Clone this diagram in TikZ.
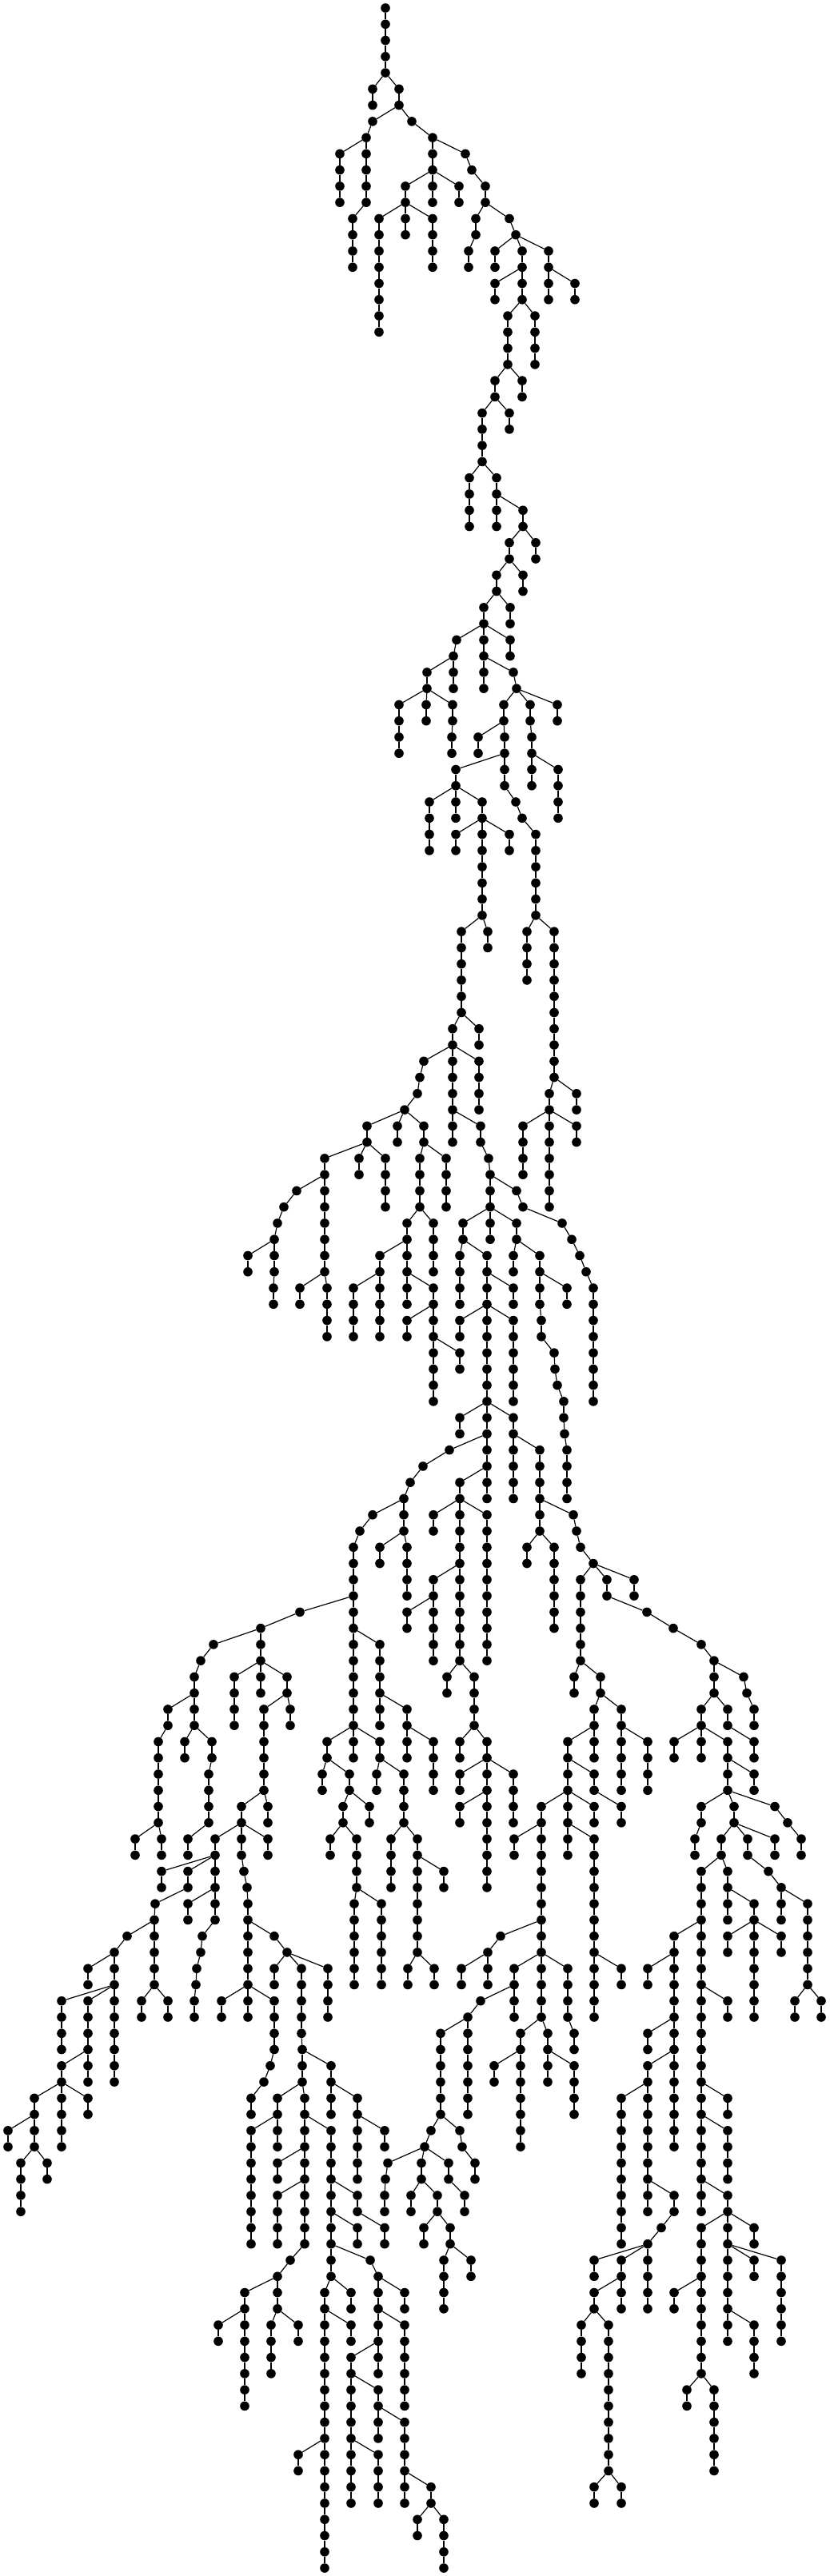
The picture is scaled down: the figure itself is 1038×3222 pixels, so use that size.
\documentclass[tikz,border=0pt]{standalone}
\tikzset{
  treedot/.style={circle,fill=black,draw=none,inner sep=0pt,minimum size=11.6pt},
  treeedge/.style={draw=black,line width=1.2pt}
}
% \brn{parent x}{parent level}{x/count,...}: grows a chain of nodes from a parent
\newcommand\brn[3]{%
  \xdef\parx{#1}\xdef\parl{#2}%
  \foreach \xx/\nn in {#3}{%
    \foreach \ii in {1,...,\nn}{%
      \pgfmathtruncatemacro\lv{\parl+1}%
      \pgfmathsetmacro\yy{-(10+20.266*\lv)}%
      \node[treedot] (n\xx-\lv) at (\xx,\yy) {};
      \draw[treeedge] (n\parx-\parl) -- (n\xx-\lv);
      \xdef\parx{\xx}\xdef\parl{\lv}%
    }%
  }%
}
\begin{document}
\begin{tikzpicture}[x=1pt,y=1pt]
\useasboundingbox (0,0) rectangle (1038,-3222);
\fill[white] (0,0) rectangle (1038,-3222);
\node[treedot] (n482-0) at (482,-10) {};
\brn{482}{0}{482/4}
\brn{482}{4}{466/2}
\brn{482}{4}{499/2}
\brn{499}{6}{466/1,458/1}
\brn{458}{8}{425/4}
\brn{458}{8}{458/4,441/4}
\brn{499}{6}{515/1,541/1}
\brn{541}{8}{541/2}
\brn{541}{8}{582/1,590/1,607/2}
\brn{541}{10}{507/2}
\brn{507}{12}{474/8}
\brn{507}{12}{507/2}
\brn{507}{12}{541/4}
\brn{541}{10}{541/2}
\brn{541}{10}{574/2}
\brn{607}{12}{595/2,586/2}
\brn{607}{12}{637/1,645/1}
\brn{645}{14}{619/2}
\brn{645}{14}{653/2}
\brn{645}{14}{686/2}
\brn{653}{16}{619/2}
\brn{653}{16}{653/2}
\brn{653}{18}{635/4}
\brn{653}{18}{669/4}
\brn{686}{16}{686/2}
\brn{686}{16}{719/2}
% section 2
\brn{635}{22}{619/2}
\brn{635}{22}{653/2}
\brn{619}{24}{637/2}
\brn{619}{24}{603/4}
\brn{603}{28}{587/4}
\brn{603}{28}{621/2}
\brn{621}{30}{621/2}
\brn{621}{30}{654/2}
\brn{654}{32}{670/2}
\brn{654}{32}{637/2}
\brn{637}{34}{654/2}
\brn{637}{34}{621/2}
\brn{621}{36}{638/2}
\brn{621}{36}{605/2}
\brn{605}{38}{638/2}
\brn{605}{38}{571/1,567/1}
\brn{605}{38}{605/2}
\brn{567}{40}{567/2}
\brn{567}{40}{534/2}
\brn{534}{42}{499/4}
\brn{534}{42}{533/2}
\brn{534}{42}{566/2,565/2}
\brn{605}{40}{605/2}
\brn{605}{40}{642/1,646/1}
\brn{646}{42}{697/2}
\brn{646}{42}{630/2}
\brn{630}{44}{598/2}
\brn{630}{44}{631/2}
\brn{631}{46}{570/2}
\brn{631}{46}{631/2,645/1,653/1,670/6}
\brn{646}{42}{663/2,665/2}
\brn{665}{46}{665/2}
\brn{665}{46}{698/4}
% section 3
\brn{570}{48}{537/4}
\brn{570}{48}{570/2}
\brn{570}{48}{603/2}
\brn{603}{50}{570/2}
\brn{603}{50}{637/2}
\brn{603}{50}{603/6}
\brn{603}{56}{610/2}
\brn{603}{56}{577/6}
\brn{577}{62}{599/2}
\brn{577}{62}{566/2}
\brn{566}{64}{530/1,525/1,522/1,506/1}
\brn{566}{64}{566/4}
\brn{566}{64}{599/4}
\brn{670}{56}{659/4}
\brn{670}{56}{693/10}
\brn{693}{66}{687/2}
\brn{693}{66}{721/2}
% section 4
\brn{506}{68}{459/2}
\brn{506}{68}{497/2}
\brn{506}{68}{530/2}
\brn{459}{70}{449/2}
\brn{459}{70}{482/4}
\brn{459}{70}{406/2}
\brn{406}{72}{371/1,355/1,347/1,343/1}
\brn{343}{76}{310/2}
\brn{343}{76}{343/2,342/2}
\brn{406}{72}{406/6}
\brn{406}{78}{375/2}
\brn{406}{78}{409/4}
\brn{530}{70}{558/4}
\brn{530}{70}{525/4}
\brn{525}{74}{542/4}
\brn{525}{74}{509/2}
\brn{509}{76}{475/2}
\brn{509}{76}{509/2}
\brn{475}{78}{442/4}
\brn{475}{78}{475/4}
\brn{509}{78}{509/2}
\brn{509}{78}{542/2}
\brn{542}{80}{509/2}
\brn{542}{80}{542/2}
\brn{542}{82}{575/2}
\brn{542}{82}{542/4}
\brn{566}{68}{566/2}
\brn{566}{68}{601/2,611/1,613/1}
\brn{613}{72}{613/2}
\brn{613}{74}{613/2}
\brn{613}{74}{579/2}
\brn{579}{76}{575/4}
\brn{579}{76}{609/2}
\brn{609}{78}{642/2}
\brn{609}{78}{609/2}
\brn{609}{80}{575/2}
\brn{609}{80}{609/6}
\brn{609}{80}{642/6}
\brn{613}{74}{646/2}
\brn{646}{76}{642/2}
\brn{646}{76}{675/2}
\brn{675}{78}{709/2}
\brn{675}{78}{675/2,677/2,693/1,694/1,697/1,705/2,706/1,709/4}
\brn{613}{72}{646/1,654/1,703/1,715/1,725/1,733/1,742/8}
\brn{687}{68}{654/4}
\brn{687}{68}{687/6}
\brn{687}{68}{721/2}
% section 5
\brn{609}{86}{575/2}
\brn{609}{86}{609/2}
\brn{609}{86}{642/2}
\brn{642}{88}{642/4}
\brn{642}{88}{675/4}
\brn{675}{92}{675/2}
\brn{675}{94}{659/2}
\brn{675}{94}{693/6}
\brn{675}{92}{717/1,721/1,726/1,742/1}
\brn{742}{96}{793/2}
\brn{742}{96}{759/2,809/1,842/1,877/1,893/1}
\brn{742}{96}{726/6}
\brn{726}{102}{718/2}
\brn{726}{102}{751/2}
\brn{609}{88}{562/1,529/1,513/1,505/1}
\brn{505}{92}{466/1,450/1,442/4}
\brn{442}{98}{442/2}
\brn{442}{100}{442/6}
\brn{442}{100}{475/4}
\brn{442}{98}{375/1,326/1}
\brn{505}{92}{505/2}
\brn{505}{94}{475/2}
\brn{505}{94}{509/4}
\brn{609}{88}{609/2}
\brn{609}{90}{609/2}
\brn{609}{90}{575/2}
\brn{575}{92}{542/2}
\brn{575}{92}{575/4}
\brn{575}{92}{609/10}
\brn{575}{96}{542/2}
\brn{542}{98}{509/2}
\brn{542}{98}{542/4}
\brn{575}{96}{575/6}
\brn{575}{102}{559/2}
\brn{575}{102}{593/4}
% section 6
\brn{326}{100}{326/2}
\brn{326}{102}{293/4}
\brn{326}{102}{326/2}
\brn{326}{102}{359/2}
\brn{359}{104}{363/2}
\brn{359}{104}{330/6}
\brn{330}{110}{335/2}
\brn{330}{110}{302/2}
\brn{302}{112}{335/2}
\brn{302}{112}{302/2,305/1,309/1,310/2}
\brn{302}{112}{269/2}
\brn{269}{114}{202/2}
\brn{269}{114}{235/2}
\brn{235}{116}{194/1,193/1}
\brn{269}{114}{269/2}
\brn{269}{116}{235/2}
\brn{269}{116}{269/2,253/1,251/1,246/1,245/1,243/2}
\brn{326}{100}{267/1,251/1,243/2}
\brn{243}{104}{210/2,198/6}
\brn{198}{112}{169/2}
\brn{198}{112}{202/2}
\brn{243}{104}{243/2}
\brn{243}{106}{231/2}
\brn{243}{106}{265/2,261/4,235/2}
\brn{442}{106}{442/2}
\brn{442}{106}{409/2}
\brn{409}{108}{403/2}
\brn{409}{108}{437/2}
\brn{437}{110}{462/2}
\brn{437}{110}{429/2}
\brn{429}{112}{413/2}
\brn{429}{112}{446/4}
\brn{446}{116}{443/6}
\brn{446}{116}{477/6}
\brn{442}{106}{475/2}
\brn{475}{108}{471/2}
\brn{475}{108}{505/4}
\brn{505}{112}{489/4}
\brn{505}{112}{522/2}
\brn{522}{114}{555/2}
\brn{522}{114}{522/6}
\brn{522}{120}{510/2}
\brn{522}{120}{543/2}
\brn{475}{104}{475/2}
\brn{475}{104}{509/2}
\brn{509}{106}{509/2}
\brn{509}{106}{542/4}
% section 7
\brn{593}{106}{575/2}
\brn{593}{106}{609/2}
\brn{609}{108}{575/2}
\brn{609}{108}{609/2}
\brn{609}{110}{575/2}
\brn{609}{110}{609/6}
\brn{609}{108}{642/4}
\brn{751}{104}{743/2}
\brn{743}{106}{710/2}
\brn{743}{106}{743/2}
\brn{710}{108}{710/2}
\brn{710}{108}{743/2}
\brn{743}{110}{777/2}
\brn{710}{110}{743/2}
\brn{710}{110}{710/2}
\brn{710}{112}{710/2}
\brn{710}{112}{743/8}
\brn{743}{120}{743/4}
\brn{743}{120}{777/2}
\brn{710}{110}{677/2}
\brn{677}{112}{643/2}
\brn{677}{112}{677/6}
\brn{677}{118}{626/1,610/1}
\brn{610}{120}{577/2}
\brn{610}{120}{610/2}
\brn{677}{118}{677/2}
\brn{677}{120}{643/4}
\brn{677}{120}{677/4}
\brn{677}{120}{710/4,718/2}
\brn{751}{104}{777/2}
\brn{777}{106}{777/4}
\brn{777}{106}{810/4}
\brn{893}{102}{930/1,934/1,943/2}
\brn{893}{102}{893/2}
\brn{893}{104}{877/2}
\brn{893}{104}{910/2}
\brn{910}{106}{943/2}
\brn{877}{106}{843/2}
\brn{877}{106}{877/2}
\brn{877}{106}{910/2}
\brn{910}{108}{943/2}
\brn{910}{108}{910/2}
\brn{910}{110}{877/2,869/2}
\brn{910}{110}{918/2}
\brn{910}{110}{969/1,985/1,1002/2}
\brn{918}{112}{902/2}
\brn{918}{112}{935/2,961/1,977/1}
\brn{918}{112}{969/2}
\brn{902}{114}{877/4}
\brn{902}{114}{910/2}
\brn{910}{116}{910/2}
\brn{910}{116}{943/2}
\brn{943}{118}{910/2}
\brn{943}{118}{977/2}
\brn{943}{118}{943/6}
\brn{977}{116}{977/2}
\brn{977}{116}{1010/6}
\brn{1010}{122}{994/2}
\brn{1010}{122}{1027/2}
\brn{877}{118}{843/2}
\brn{877}{118}{877/4}
\brn{843}{120}{810/2}
\brn{843}{120}{843/4}
\brn{843}{124}{810/2}
\brn{843}{124}{843/2}
\brn{843}{126}{810/2}
\brn{843}{126}{843/6}
\brn{810}{128}{777/10}
\brn{810}{128}{810/6}
\brn{810}{134}{810/2}
\brn{810}{134}{843/2,827/1,810/1}
\brn{810}{138}{743/2}
\brn{810}{138}{777/4}
\brn{810}{138}{810/4}
\brn{777}{140}{743/2}
\brn{743}{142}{727/4}
\brn{743}{142}{761/10}
\brn{761}{152}{743/2}
\brn{761}{152}{777/2}
\brn{877}{122}{910/2}
\brn{877}{122}{877/6}
\brn{877}{128}{910/2}
\brn{877}{128}{877/2}
\brn{877}{130}{910/4}
\brn{877}{130}{877/4}
\brn{877}{134}{877/2}
\brn{877}{134}{910/2}
\brn{910}{136}{877/4}
\brn{910}{136}{910/2}
\brn{910}{136}{943/2}
\brn{910}{138}{910/4}
\brn{910}{138}{943/2}
\brn{910}{138}{977/6}
\brn{877}{140}{843/2}
\brn{877}{140}{877/6}
\brn{877}{146}{859/2}
\brn{877}{146}{893/6}
\brn{910}{142}{910/2}
\brn{910}{142}{943/4}
% section 9
\brn{643}{122}{601/1,585/1}
\brn{585}{124}{585/6}
\brn{585}{124}{551/6}
\brn{551}{130}{575/1,578/1,594/2}
\brn{551}{130}{539/1,531/1}
\brn{531}{132}{485/1,482/1,481/2}
\brn{531}{132}{527/2}
\brn{531}{132}{561/2,581/2}
\brn{527}{134}{514/2}
\brn{527}{134}{547/2}
\brn{547}{136}{530/2}
\brn{547}{136}{563/2}
\brn{563}{138}{555/4}
\brn{563}{138}{589/2}
\brn{677}{124}{651/8}
\brn{651}{126}{618/2}
\brn{677}{124}{685/2}
\brn{685}{126}{685/2}
\brn{685}{126}{718/4}
% section 8
\brn{193}{118}{159/1,143/1}
\brn{193}{118}{193/4}
\brn{193}{122}{177/2}
\brn{193}{122}{210/2}
\brn{143}{120}{110/2}
\brn{143}{120}{143/2}
\brn{143}{122}{143/6}
\brn{143}{122}{77/4}
\brn{143}{122}{110/4}
\brn{110}{126}{110/2}
\brn{110}{126}{77/2}
\brn{77}{128}{110/2}
\brn{77}{128}{77/4}
\brn{77}{128}{43/2}
\brn{43}{130}{10/2}
\brn{43}{130}{43/2}
\brn{43}{132}{26/4}
\brn{43}{132}{59/2}
\brn{310}{118}{310/4}
\brn{310}{122}{277/2}
\brn{310}{122}{310/2}
\brn{310}{122}{343/4,338/1,330/1,314/2}
\brn{310}{118}{343/1,359/1}
\brn{359}{120}{343/2}
\brn{359}{120}{410/4}
\brn{359}{120}{377/5,378/1}
\brn{378}{126}{378/2}
\brn{378}{126}{414/2}
\brn{414}{128}{414/2}
\brn{414}{128}{447/2}
\brn{447}{130}{481/2}
\brn{447}{130}{447/4}
\brn{378}{128}{347/2}
\brn{378}{128}{381/2}
\brn{347}{130}{314/8}
\brn{347}{130}{347/2}
\brn{381}{130}{381/2}
\brn{381}{130}{414/4}
\brn{381}{132}{347/2}
\brn{381}{132}{381/2}
\brn{381}{134}{347/4}
\brn{381}{134}{381/4}
\brn{381}{138}{363/1,347/1}
\brn{414}{134}{414/2}
\brn{414}{134}{447/2}
\brn{447}{136}{481/2}
\brn{414}{136}{414/2}
\brn{414}{136}{447/2}
\brn{414}{138}{414/2}
\brn{414}{138}{463/1,473/1}
\brn{414}{140}{406/2}
\brn{414}{140}{439/2}
\brn{406}{142}{439/2}
\brn{406}{142}{406/8}
\brn{406}{150}{373/2}
\brn{406}{150}{406/8}
\brn{473}{140}{473/2}
\brn{473}{140}{506/2}
\brn{473}{142}{473/2}
\brn{473}{142}{506/6}
\brn{473}{144}{473/2}
\brn{473}{144}{439/2}
\brn{439}{146}{439/4}
\brn{439}{146}{473/2}
\brn{439}{150}{439/4}
\brn{439}{150}{473/4}
\brn{473}{148}{473/2}
\brn{473}{148}{506/4}
\brn{506}{152}{506/2}
\brn{506}{152}{539/2}
\brn{539}{154}{522/2}
\brn{539}{154}{555/4}
\brn{347}{140}{306/2}
\brn{347}{140}{347/2}
\brn{306}{142}{273/2}
\brn{306}{142}{306/6}
\brn{347}{142}{339/4}
\brn{347}{142}{373/2}
\end{tikzpicture}
\end{document}
